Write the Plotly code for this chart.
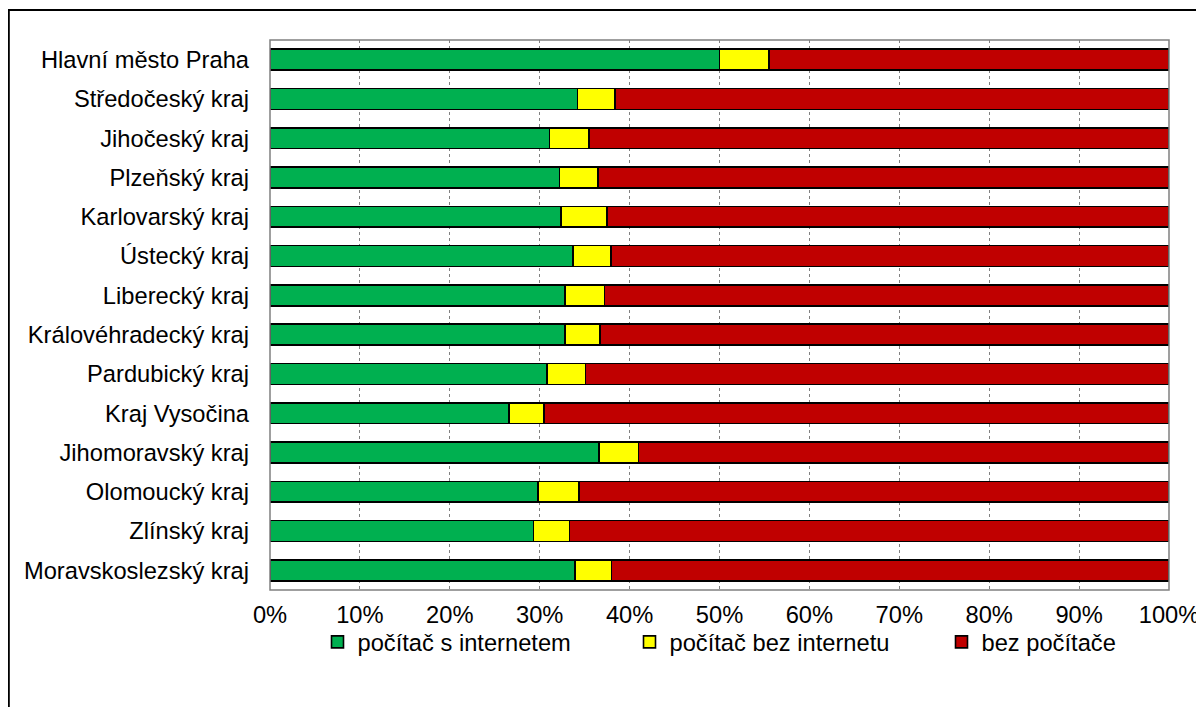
import plotly.graph_objects as go

regions = ["Hlavní město Praha", "Středočeský kraj", "Jihočeský kraj", "Plzeňský kraj",
           "Karlovarský kraj", "Ústecký kraj", "Liberecký kraj", "Královéhradecký kraj",
           "Pardubický kraj", "Kraj Vysočina", "Jihomoravský kraj", "Olomoucký kraj",
           "Zlínský kraj", "Moravskoslezský kraj"]
s_internetem = [50.0, 34.2, 31.1, 32.2, 32.4, 33.7, 32.8, 32.8, 30.8, 26.6, 36.6, 29.8, 29.3, 33.9]
bez_internetu = [5.5, 4.2, 4.4, 4.3, 5.1, 4.2, 4.4, 3.9, 4.3, 3.9, 4.4, 4.6, 4.0, 4.1]
bez_pocitace = [44.5, 61.6, 64.5, 63.5, 62.5, 62.1, 62.8, 63.3, 64.9, 69.5, 59.0, 65.6, 66.7, 62.0]
series_names = ["počítač s internetem", "počítač bez internetu", "bez počítače"]
x_ticks = [0, 10, 20, 30, 40, 50, 60, 70, 80, 90, 100]
x_tick_labels = [f"{t}%" for t in x_ticks]

colors = ["#00B050", "#FFFF00", "#C00000"]
font = "Liberation Sans, Arial, sans-serif"
FS = 23.7

fig = go.Figure()
for name, vals, col in zip(series_names, [s_internetem, bez_internetu, bez_pocitace], colors):
    fig.add_trace(go.Bar(
        y=regions, x=vals, name=name, orientation="h",
        marker=dict(color=col, line=dict(color="#000000", width=1.6)),
    ))

# page has an 8px body margin; figure occupies page (8..1204, 8..707)
OFF = 8
W, H = 1204 - OFF, 707 - OFF
L, R, T, B = 270 - OFF, 1204 - 1169, 40 - OFF, 707 - 590
pw, ph = W - L - R, H - T - B

ENTRY_W = 267
legend_left_page = 322.5
legend_width = 3 * (40 + ENTRY_W + 5) - 5
legend_right_page = legend_left_page + legend_width

fig.update_layout(
    width=W, height=H,
    barmode="stack", bargap=0.47,
    margin=dict(l=L, r=R, t=T, b=B, pad=0, autoexpand=False),
    paper_bgcolor="white", plot_bgcolor="white",
    font=dict(family=font, size=FS, color="black"),
    showlegend=True,
    legend=dict(orientation="h", xref="paper", yref="paper",
                x=(legend_right_page - 270) / pw, xanchor="right",
                y=-(642 - 590) / ph, yanchor="middle",
                font=dict(family=font, size=FS, color="black"),
                entrywidth=ENTRY_W, itemwidth=30, traceorder="normal",
                bgcolor="rgba(0,0,0,0)"),
    xaxis=dict(range=[0, 100], tickvals=x_ticks, ticktext=x_tick_labels,
               showgrid=True, gridcolor="#808080", griddash="dot", gridwidth=1,
               zeroline=False, showline=False, ticks="", ticklabelstandoff=8,
               tickfont=dict(family=font, size=FS, color="black")),
    yaxis=dict(autorange="reversed", showgrid=False, zeroline=False, showline=False,
               ticks="", ticklabelstandoff=20,
               tickfont=dict(family=font, size=FS, color="black")),
    shapes=[
        dict(type="rect", xref="paper", yref="paper", x0=0, x1=1, y0=0, y1=1,
             line=dict(color="#808080", width=1.5), layer="above"),
        dict(type="rect", xref="paper", yref="paper",
             x0=(8.9 - 270) / pw, x1=(1240 - 270) / pw,
             y0=1 - (740 - 40) / ph, y1=1 + (40 - 10) / ph,
             line=dict(color="#000000", width=1.8)),
    ],
)

fig.write_html("out.html")
